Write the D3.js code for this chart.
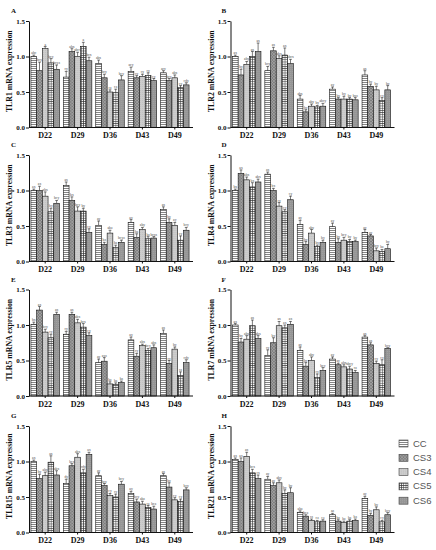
<!DOCTYPE html>
<html><head><meta charset="utf-8">
<script src="https://cdn.jsdelivr.net/npm/d3@7"></script>
<style>body{margin:0;background:#fff}svg{display:block}</style>
</head><body>
<svg id="chart" width="436" height="550"></svg>
<script>
// ---------- data ----------
const days = ["D22", "D29", "D36", "D43", "D49"];
const groups = ["CC", "CS3", "CS4", "CS5", "CS6"];
const genes = ["TLR1", "TLR2", "TLR3", "TLR4", "TLR5", "TLR7", "TLR15", "TLR21"];
const panelLetters = ["A", "B", "C", "D", "E", "F", "G", "H"];
const yTicks = [0, 0.5, 1.0, 1.5];

// values per day (rows) x group (CC, CS3, CS4, CS5, CS6)
const tlr1Values = [[1.00, 0.80, 1.11, 0.91, 0.82], [0.71, 1.07, 1.00, 1.14, 0.94], [0.90, 0.70, 0.50, 0.49, 0.67], [0.79, 0.70, 0.72, 0.73, 0.66], [0.77, 0.66, 0.70, 0.56, 0.60]];
const tlr2Values = [[1.00, 0.74, 0.89, 1.00, 1.07], [0.80, 1.08, 0.97, 1.02, 0.90], [0.40, 0.22, 0.30, 0.29, 0.30], [0.54, 0.40, 0.40, 0.40, 0.39], [0.74, 0.58, 0.53, 0.38, 0.53]];
const tlr3Values = [[1.00, 1.00, 0.92, 0.70, 0.82], [1.07, 0.86, 0.71, 0.71, 0.41], [0.51, 0.24, 0.40, 0.20, 0.27], [0.55, 0.34, 0.45, 0.32, 0.33], [0.73, 0.55, 0.51, 0.30, 0.44]];
const tlr4Values = [[1.00, 1.24, 1.15, 1.05, 1.12], [1.23, 1.00, 0.78, 0.70, 0.87], [0.52, 0.24, 0.40, 0.21, 0.27], [0.49, 0.27, 0.30, 0.28, 0.28], [0.41, 0.36, 0.15, 0.14, 0.18]];
const tlr5Values = [[1.01, 1.21, 0.90, 0.82, 1.15], [0.87, 1.15, 1.03, 0.97, 0.85], [0.47, 0.49, 0.17, 0.165, 0.19], [0.79, 0.56, 0.71, 0.64, 0.68], [0.88, 0.46, 0.66, 0.29, 0.47]];
const tlr7Values = [[1.00, 0.76, 0.80, 0.99, 0.81], [0.57, 0.75, 0.99, 0.96, 1.01], [0.64, 0.42, 0.50, 0.26, 0.36], [0.52, 0.44, 0.41, 0.38, 0.33], [0.83, 0.72, 0.46, 0.44, 0.67]];
const tlr15Values = [[1.00, 0.76, 0.80, 0.99, 0.81], [0.69, 0.94, 1.06, 0.84, 1.10], [0.80, 0.66, 0.52, 0.50, 0.68], [0.55, 0.43, 0.40, 0.35, 0.33], [0.80, 0.64, 0.46, 0.44, 0.60]];
const tlr21Values = [[1.03, 1.00, 1.07, 0.84, 0.76], [0.75, 0.66, 0.70, 0.55, 0.56], [0.285, 0.23, 0.17, 0.15, 0.16], [0.25, 0.16, 0.14, 0.16, 0.17], [0.48, 0.24, 0.32, 0.15, 0.25]];

// error bars (upper half only), same layout
const tlr1Errors = [[0.02, 0.12, 0.03, 0.06, 0.06], [0.08, 0.04, 0.06, 0.06, 0.05], [0.05, 0.05, 0.03, 0.05, 0.06], [0.06, 0.03, 0.03, 0.04, 0.03], [0.03, 0.03, 0.04, 0.03, 0.03]];
const tlr2Errors = [[0.02, 0.08, 0.04, 0.07, 0.12], [0.06, 0.05, 0.04, 0.10, 0.06], [0.05, 0.03, 0.03, 0.02, 0.04], [0.03, 0.02, 0.04, 0.02, 0.03], [0.06, 0.03, 0.05, 0.04, 0.06]];
const tlr3Errors = [[0.02, 0.06, 0.06, 0.05, 0.04], [0.05, 0.05, 0.06, 0.04, 0.05], [0.06, 0.03, 0.04, 0.03, 0.03], [0.04, 0.05, 0.03, 0.03, 0.02], [0.04, 0.05, 0.04, 0.06, 0.04]];
const tlr4Errors = [[0.02, 0.05, 0.04, 0.06, 0.04], [0.03, 0.03, 0.05, 0.03, 0.05], [0.06, 0.04, 0.05, 0.02, 0.03], [0.05, 0.05, 0.04, 0.03, 0.02], [0.04, 0.02, 0.04, 0.03, 0.06]];
const tlr5Errors = [[0.03, 0.05, 0.04, 0.05, 0.03], [0.04, 0.03, 0.05, 0.05, 0.04], [0.05, 0.05, 0.03, 0.02, 0.02], [0.04, 0.04, 0.02, 0.03, 0.04], [0.05, 0.04, 0.03, 0.05, 0.04]];
const tlr7Errors = [[0.02, 0.05, 0.05, 0.08, 0.04], [0.08, 0.07, 0.06, 0.04, 0.04], [0.05, 0.05, 0.05, 0.05, 0.04], [0.03, 0.02, 0.03, 0.04, 0.03], [0.02, 0.03, 0.03, 0.07, 0.01]];
const tlr15Errors = [[0.02, 0.06, 0.05, 0.09, 0.06], [0.06, 0.03, 0.05, 0.05, 0.03], [0.04, 0.03, 0.03, 0.04, 0.04], [0.03, 0.04, 0.04, 0.03, 0.04], [0.03, 0.06, 0.03, 0.03, 0.03]];
const tlr21Errors = [[0.02, 0.05, 0.06, 0.05, 0.05], [0.04, 0.04, 0.04, 0.05, 0.07], [0.02, 0.02, 0.02, 0.02, 0.02], [0.02, 0.02, 0.02, 0.02, 0.02], [0.03, 0.03, 0.04, 0.02, 0.03]];

// significance letters
const tlr1Letters = [["abc", "bcy", "a", "bcy", "bcyz"], ["cy", "abx", "abcx", "a", "bcx"], ["abx", "bcy", "cz", "cz", "bcy"], ["acy", "cy", "cy", "cy", "cy"], ["acy", "bcy", "abx", "cy", "cdy"]];
const tlr2Letters = [["ax", "by", "aby", "ax", "ax"], ["bcy", "ax", "abx", "ax", "abcx"], ["abx", "by", "aby", "by", "abcy"], ["ay", "by", "by", "by", "byz"], ["ax", "by", "by", "cy", "by"]];
const tlr3Letters = [["ax", "ax", "abx", "by", "bcy"], ["ax", "bx", "bcy", "by", "cy"], ["ay", "bz", "abz", "bz", "bcyz"], ["ay", "bz", "aby", "bz", "bcyz"], ["ax", "by", "ay", "cy", "bcy"]];
const tlr4Letters = [["bx", "ax", "abx", "bx", "abx"], ["ax", "bx", "cy", "cy", "cy"], ["ay", "by", "aby", "by", "by"], ["ay", "by", "bcy", "by", "by"], ["ay", "ay", "bcy", "bz", "by"]];
const tlr5Letters = [["bx", "ax", "bcy", "cy", "ax"], ["cy", "ax", "abx", "bcx", "cy"], ["ay", "ayz", "bz", "bz", "bz"], ["ay", "cy", "abx", "bcy", "abx"], ["ax", "cy", "by", "cz", "cdy"]];
const tlr7Letters = [["ax", "by", "aby", "ax", "abx"], ["cy", "by", "ax", "ax", "ax"], ["ay", "by", "aby", "cy", "bcy"], ["ay", "ay", "abx", "abcy", "cz"], ["ax", "ax", "cy", "cy", "bcy"]];
const tlr15Letters = [["ax", "by", "aby", "ax", "abx"], ["dy", "bcx", "abx", "cdy", "ax"], ["ay", "bcy", "cy", "cy", "bcy"], ["ay", "bcy", "abz", "cz", "bcz"], ["ax", "by", "cy", "cy", "bcy"]];
const tlr21Letters = [["ax", "ax", "ax", "bcx", "cx"], ["ay", "ay", "aby", "by", "by"], ["abz", "bcz", "cz", "cz", "cz"], ["az", "bz", "bz", "bz", "bz"], ["ay", "by", "by", "cy", "bcy"]];

const panelValues = [tlr1Values, tlr2Values, tlr3Values, tlr4Values, tlr5Values, tlr7Values, tlr15Values, tlr21Values];
const panelErrors = [tlr1Errors, tlr2Errors, tlr3Errors, tlr4Errors, tlr5Errors, tlr7Errors, tlr15Errors, tlr21Errors];
const panelLettersSig = [tlr1Letters, tlr2Letters, tlr3Letters, tlr4Letters, tlr5Letters, tlr7Letters, tlr15Letters, tlr21Letters];

// ---------- drawing ----------
const svg = d3.select("#chart");
const serif = "'Liberation Serif','Times New Roman',serif";
const defs = svg.append("defs");

function pat(id, w, h, build) {
  const p = defs.append("pattern").attr("id", id).attr("patternUnits", "userSpaceOnUse")
    .attr("width", w).attr("height", h);
  build(p);
}
// CC: white with horizontal lines
pat("pCC", 4, 2, p => {
  p.append("rect").attr("width", 4).attr("height", 2).attr("fill", "#fff");
  p.append("line").attr("x1", 0).attr("x2", 4).attr("y1", 0.5).attr("y2", 0.5).attr("stroke", "#333").attr("stroke-width", 0.6);
});
// CS3: dark grey with light crosshatch
pat("pCS3", 3, 3, p => {
  p.append("rect").attr("width", 3).attr("height", 3).attr("fill", "#7c7c7c");
  p.append("path").attr("d", "M0,0L3,3M3,0L0,3").attr("stroke", "#b8b8b8").attr("stroke-width", 0.5);
});
// CS4: light grey with faint dots
pat("pCS4", 2, 2, p => {
  p.append("rect").attr("width", 2).attr("height", 2).attr("fill", "#cdcdcd");
  p.append("rect").attr("width", 0.6).attr("height", 0.6).attr("fill", "#a9a9a9");
});
// CS5: white grid
pat("pCS5", 2.2, 2.2, p => {
  p.append("rect").attr("width", 2.2).attr("height", 2.2).attr("fill", "#fff");
  p.append("path").attr("d", "M0,0.4H2.2M0.4,0V2.2").attr("stroke", "#333").attr("stroke-width", 0.6);
});
// CS6: medium grey with faint texture
pat("pCS6", 2, 2, p => {
  p.append("rect").attr("width", 2).attr("height", 2).attr("fill", "#959595");
  p.append("rect").attr("x", 1).attr("y", 1).attr("width", 0.7).attr("height", 0.7).attr("fill", "#b0b0b0");
});
const fillOf = d3.scaleOrdinal().domain(groups).range(groups.map(g => `url(#p${g})`));

const axisX = [29, 230.5];
const plotW = 162;
const rowTop = [21, 155, 289.5, 426];
const plotH = 106.5;

genes.forEach((gene, i) => {
  const col = i % 2, row = Math.floor(i / 2);
  const ax = axisX[col];
  const top = rowTop[row], bottom = top + plotH;
  const vals = panelValues[i], errs = panelErrors[i], lets = panelLettersSig[i];

  const x0 = d3.scaleBand().domain(days).range([ax, ax + plotW]).paddingInner(0.12).paddingOuter(0.06);
  const x1 = d3.scaleBand().domain(groups).range([0, x0.bandwidth()]);
  const y = d3.scaleLinear().domain([0, 1.5]).range([bottom, top]);

  const g = svg.append("g");

  const dayG = g.selectAll("g.day").data(days).join("g")
    .attr("transform", d => `translate(${x0(d)},0)`);

  const recs = dayG.selectAll("g.bar").data((d, di) => groups.map((grp, gi) => ({
    grp, v: vals[di][gi], e: errs[di][gi], l: lets[di][gi]
  }))).join("g");

  // error bars
  recs.append("line")
    .attr("x1", d => x1(d.grp) + x1.bandwidth() / 2).attr("x2", d => x1(d.grp) + x1.bandwidth() / 2)
    .attr("y1", d => y(d.v)).attr("y2", d => y(d.v + d.e))
    .attr("stroke", "#222").attr("stroke-width", 0.6);
  recs.append("line")
    .attr("x1", d => x1(d.grp) + x1.bandwidth() / 2 - 1.4).attr("x2", d => x1(d.grp) + x1.bandwidth() / 2 + 1.4)
    .attr("y1", d => y(d.v + d.e)).attr("y2", d => y(d.v + d.e))
    .attr("stroke", "#222").attr("stroke-width", 0.6);

  recs.append("rect")
    .attr("x", d => x1(d.grp)).attr("width", x1.bandwidth())
    .attr("y", d => y(d.v)).attr("height", d => y(0) - y(d.v))
    .attr("fill", d => fillOf(d.grp)).attr("stroke", "#111").attr("stroke-width", 0.6);

  recs.append("text")
    .attr("x", d => x1(d.grp) + x1.bandwidth() / 2).attr("y", d => y(d.v + d.e) - 1)
    .attr("text-anchor", "middle").attr("font-family", serif).attr("font-size", 3.6)
    .attr("fill", "#444").text(d => d.l);

  // axes
  const yAxis = g.append("g").attr("transform", `translate(${ax},0)`)
    .call(d3.axisLeft(y).tickValues(yTicks).tickFormat(d3.format(".1f")).tickSize(3).tickSizeOuter(0));
  yAxis.selectAll("text").attr("font-family", serif).attr("font-weight", "bold").attr("font-size", 7).attr("x", -4).attr("fill", "#111");
  yAxis.selectAll("line,path").attr("stroke", "#111");

  const xAxis = g.append("g").attr("transform", `translate(0,${bottom})`)
    .call(d3.axisBottom(x0).tickSize(2).tickSizeOuter(0).tickPadding(3));
  xAxis.selectAll("text").attr("font-family", serif).attr("font-weight", "bold").attr("font-size", 8).attr("fill", "#111");
  xAxis.selectAll("line,path").attr("stroke", "#111");
  xAxis.select("path.domain").attr("d", `M${ax},0H${ax + plotW + 2}`);

  // y title
  g.append("text")
    .attr("transform", `translate(${ax - 17},${(top + bottom) / 2 - 3}) rotate(-90)`)
    .attr("text-anchor", "middle").attr("font-family", serif).attr("font-weight", "bold")
    .attr("font-size", 7.8).attr("fill", "#111").text(`${gene} mRNA expression`);

  // panel letter
  g.append("text").attr("x", ax - 18 + (col ? 9 : 0)).attr("y", top - 8)
    .attr("font-family", serif).attr("font-weight", "bold").attr("font-size", 7).attr("fill", "#111")
    .text(panelLetters[i]);
});

// legend
const leg = svg.append("g").attr("transform", "translate(399,440)");
const legItems = leg.selectAll("g").data(groups).join("g")
  .attr("transform", (d, i) => `translate(0,${i * 14.3})`);
legItems.append("rect").attr("width", 9).attr("height", 7)
  .attr("fill", d => fillOf(d)).attr("stroke", "#444").attr("stroke-width", 0.6);
legItems.append("text").attr("x", 14).attr("y", 6.5)
  .attr("font-family", "'Liberation Sans',Arial,sans-serif").attr("font-size", 9.5).attr("fill", "#555")
  .text(d => d);
</script>
</body></html>
